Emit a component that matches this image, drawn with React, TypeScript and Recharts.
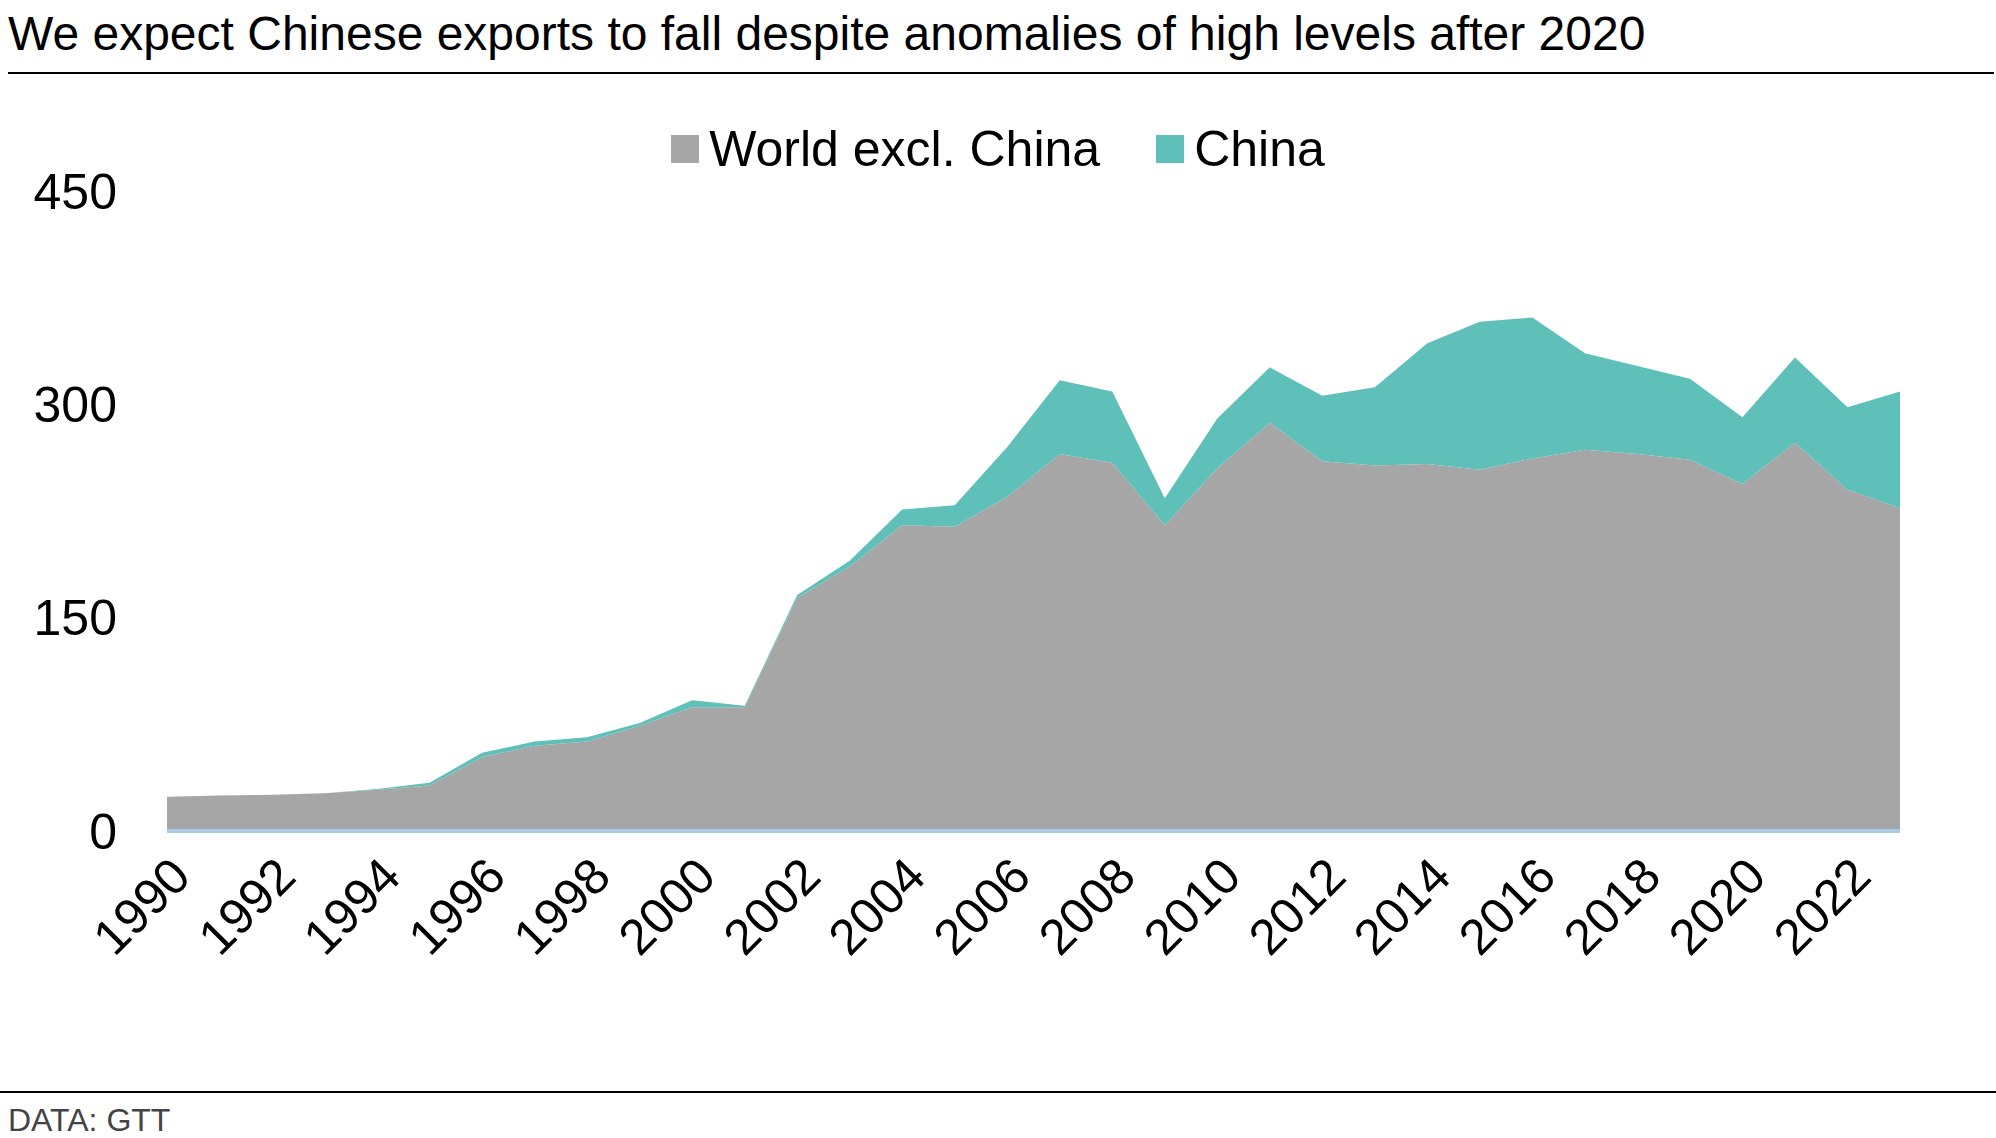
import { AreaChart, Area, XAxis, YAxis, ReferenceLine } from 'recharts';

const years = [
  1990, 1991, 1992, 1993, 1994, 1995, 1996, 1997, 1998, 1999, 2000, 2001,
  2002, 2003, 2004, 2005, 2006, 2007, 2008, 2009, 2010, 2011, 2012, 2013,
  2014, 2015, 2016, 2017, 2018, 2019, 2020, 2021, 2022, 2023,
];
const worldExChina = [
  24, 25, 25.5, 26.5, 29, 32, 52, 60, 63, 74, 87, 87,
  164, 186, 215, 214, 235, 265, 259, 215, 255, 287, 260, 257,
  258, 254, 262, 268, 265, 261, 244, 273, 240, 227,
];
const china = [
  0, 0, 0, 0, 0.5, 2, 3, 3, 3, 2, 5, 1,
  2, 4, 11, 15, 35, 52, 50, 19, 35, 39, 46, 55,
  85, 104, 99, 68, 62, 57, 47, 60, 58, 82,
];
const yTicks = [0, 150, 300, 450];
const xTicks = years.filter((y) => y % 2 === 0);

const data = years.map((year, i) => ({
  year,
  world: worldExChina[i],
  china: china[i],
}));

const font = '"Liberation Sans", Arial, sans-serif';
const GRAY = '#a6a6a6';
const TEAL = '#5fbfb9';

function XTick(props: any) {
  const { x, y, payload } = props;
  return (
    <text
      x={x + 14}
      y={y + 28}
      transform={`rotate(-45 ${x + 14} ${y + 28})`}
      textAnchor="end"
      dominantBaseline="central"
      fontSize={50}
      fill="#000"
      fontFamily={font}
    >
      {payload.value}
    </text>
  );
}

export default function App() {
  return (
    <div style={{ position: 'absolute', left: 0, top: 0, width: 1996, height: 1138, background: '#fff', fontFamily: font }}>
      <div style={{ position: 'absolute', left: 8, top: 6, fontSize: 48, color: '#000', whiteSpace: 'nowrap' }}>
        We expect Chinese exports to fall despite anomalies of high levels after 2020
      </div>
      <div style={{ position: 'absolute', left: 8, top: 72, width: 1986, height: 2, background: '#000' }} />
      <div style={{ position: 'absolute', left: 0, top: 120, width: 1996, display: 'flex', justifyContent: 'center', alignItems: 'center', fontSize: 50, color: '#000' }}>
        <span style={{ width: 28, height: 28, background: GRAY, display: 'inline-block', marginRight: 10 }} />
        <span style={{ marginRight: 56 }}>World excl. China</span>
        <span style={{ width: 28, height: 28, background: TEAL, display: 'inline-block', marginRight: 10 }} />
        <span>China</span>
      </div>
      <AreaChart width={1996} height={1138} data={data} margin={{ top: 191, right: 96, bottom: 0, left: 0 }}>
        <XAxis
          dataKey="year"
          type="number"
          domain={[1990, 2023]}
          ticks={xTicks}
          tick={<XTick />}
          tickLine={false}
          axisLine={false}
          height={307}
          interval={0}
        />
        <YAxis
          domain={[0, 450]}
          ticks={yTicks}
          width={167}
          tickLine={false}
          axisLine={false}
          tickMargin={44}
          tick={{ fontSize: 50, fill: '#000', fontFamily: font }}
        />
        <Area type="linear" dataKey="world" name="World excl. China" stackId="1" stroke="none" fill={GRAY} fillOpacity={1} isAnimationActive={false} />
        <Area type="linear" dataKey="china" name="China" stackId="1" stroke="none" fill={TEAL} fillOpacity={1} isAnimationActive={false} />
        <ReferenceLine y={0} stroke="#a9cbe8" strokeWidth={4} />
      </AreaChart>
      <div style={{ position: 'absolute', left: 0, top: 1091, width: 1996, height: 2, background: '#000' }} />
      <div style={{ position: 'absolute', left: 8, top: 1102, fontSize: 32, color: '#444' }}>DATA: GTT</div>
    </div>
  );
}
